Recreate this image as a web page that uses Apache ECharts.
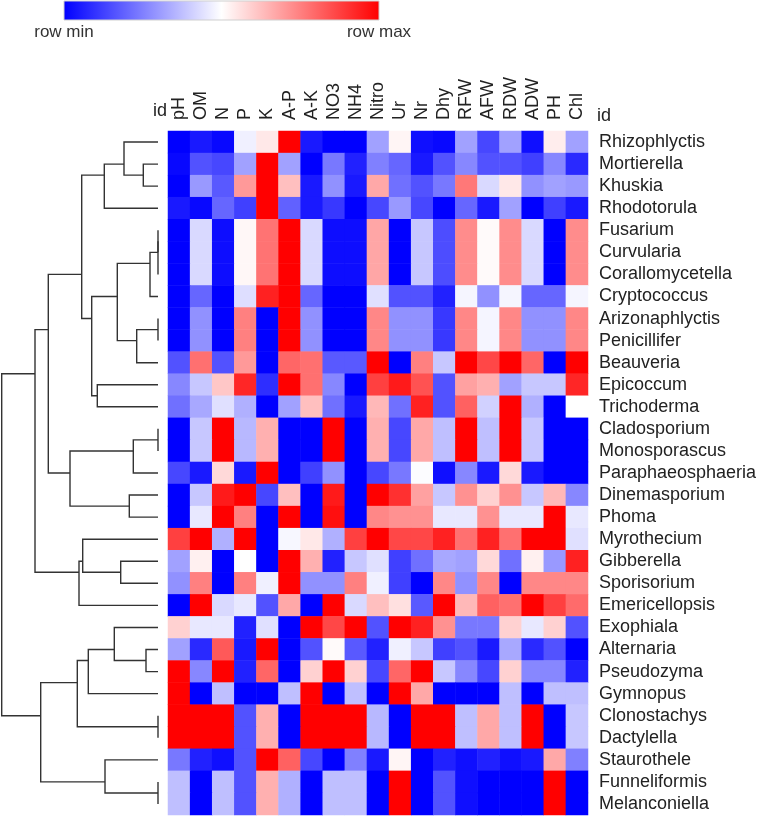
<!DOCTYPE html>
<html>
<head>
<meta charset="utf-8">
<script src="https://cdn.jsdelivr.net/npm/echarts@6/dist/echarts.min.js"></script>
<style>
  html, body { margin: 0; padding: 0; background: #fff; }
  #chart { width: 765px; height: 817px; }
</style>
</head>
<body>
<div id="chart"></div>
<script>
const colNames = ["pH", "OM", "N", "P", "K", "A-P", "A-K", "NO3", "NH4", "Nitro",
  "Ur", "Nr", "Dhy", "RFW", "AFW", "RDW", "ADW", "PH", "Chl"];

const rowNames = [
  "Rhizophlyctis", "Mortierella", "Khuskia", "Rhodotorula", "Fusarium",
  "Curvularia", "Corallomycetella", "Cryptococcus", "Arizonaphlyctis", "Penicillifer",
  "Beauveria", "Epicoccum", "Trichoderma", "Cladosporium", "Monosporascus",
  "Paraphaeosphaeria", "Dinemasporium", "Phoma", "Myrothecium", "Gibberella",
  "Sporisorium", "Emericellopsis", "Exophiala", "Alternaria", "Pseudozyma",
  "Gymnopus", "Clonostachys", "Dactylella", "Staurothele", "Funneliformis",
  "Melanconiella",
];

// row-scaled values, -1 = row min, 1 = row max
const values = [
  [-1, -0.9, -0.97, -0.06, 0.09, 1, -0.9, -1, -1, -0.37, 0.04, -0.94, -0.97, -0.37, -0.72, -0.37, -0.94, 0.07, -0.37],
  [-0.97, -0.68, -0.72, -0.37, 1, -0.37, -1, -0.53, -0.87, -0.5, -0.6, -0.9, -0.68, -0.47, -0.68, -0.68, -0.75, -0.47, -0.84],
  [-1, -0.4, -0.65, 0.4, 1, 0.25, -0.9, -0.43, -0.9, 0.34, -0.56, -0.68, -0.53, 0.53, -0.15, 0.09, -0.43, -0.37, -0.4],
  [-0.9, -0.97, -0.6, -0.75, 1, -0.62, -0.9, -0.78, -1, -0.72, -0.4, -0.72, -1, -0.6, -0.9, -0.37, -1, -0.75, -0.9],
  [-1, -0.15, -0.95, 0.03, 0.55, 1, -0.15, -0.95, -0.95, 0.35, -1, -0.22, -0.7, 0.45, 0.02, 0.45, -0.15, -1, 0.45],
  [-1, -0.15, -0.95, 0.03, 0.55, 1, -0.15, -0.95, -0.95, 0.35, -1, -0.22, -0.7, 0.45, 0.02, 0.45, -0.15, -1, 0.45],
  [-1, -0.15, -0.95, 0.03, 0.55, 1, -0.15, -0.95, -0.95, 0.35, -1, -0.22, -0.7, 0.45, 0.02, 0.45, -0.15, -1, 0.45],
  [-1, -0.6, -1, -0.13, 0.87, 1, -0.6, -1, -1, -0.12, -0.68, -0.68, -0.87, -0.04, -0.43, -0.04, -0.6, -0.6, -0.04],
  [-1, -0.43, -1, 0.5, -1, 1, -0.43, -1, -1, 0.47, -0.43, -0.43, -0.78, 0.47, -0.04, 0.47, -0.43, -0.43, 0.47],
  [-1, -0.43, -1, 0.5, -1, 1, -0.43, -1, -1, 0.47, -0.43, -0.43, -0.78, 0.47, -0.04, 0.47, -0.43, -0.43, 0.47],
  [-0.68, 0.56, -0.68, 0.4, -1, 0.6, 0.56, -0.65, -0.65, 1, -1, 0.5, -0.22, 1, 0.72, 1, 0.6, -1, 1],
  [-0.47, -0.22, 0.22, 0.85, -0.82, 1, 0.56, -0.47, -1, 0.75, 0.9, 0.68, -0.68, 0.37, 0.31, -0.37, -0.22, -0.22, 0.85],
  [-0.56, -0.34, -0.12, -0.31, -1, -0.37, 0.25, -0.56, -0.9, 0.28, -0.56, 0.87, -0.68, 0.62, -0.18, 1, -0.31, -1, 0],
  [-1, -0.22, 1, -0.28, 0.31, -1, -1, 1, -1, 0.31, -0.72, 0.34, -0.25, 1, -0.25, 1, -0.22, -1, -1],
  [-1, -0.22, 1, -0.28, 0.31, -1, -1, 1, -1, 0.31, -0.72, 0.34, -0.25, 1, -0.25, 1, -0.22, -1, -1],
  [-0.72, -0.9, 0.15, -0.9, 1, -1, -0.75, -0.43, -1, -0.72, -0.53, -0.01, -0.94, -0.47, -0.9, 0.15, -0.9, -1, -1],
  [-1, -0.22, 0.9, 1, -0.72, 0.25, -1, 0.9, -1, 1, 0.81, 0.37, -0.22, 0.43, 0.18, 0.43, -0.22, 0.28, -0.47],
  [-1, -0.09, 1, 0.5, -1, 1, -1, 0.94, -1, 0.47, 0.43, 0.43, -0.09, -0.09, 0.43, -0.09, -0.09, 1, -0.09],
  [0.75, 1, -0.31, 1, -1, -0.03, 0.09, -0.31, 0.75, 1, 0.72, 0.72, 0.87, 0.56, 0.87, 0.56, 1, 1, -0.12],
  [-0.37, 0.06, -1, 0, -1, 1, 0.31, -0.87, -0.22, -0.12, -0.75, -0.56, -0.34, -0.37, 0.15, -0.56, 0.06, -0.4, 0.87],
  [-0.43, 0.5, -1, 0.5, -0.06, 1, -0.43, -0.43, 0.5, -0.06, -0.75, -1, 0.47, -0.43, 0.47, -1, 0.47, 0.47, 0.47],
  [-1, 1, -0.15, -0.09, -0.68, 0.34, -1, 1, -0.15, 0.25, 0.12, -0.65, 1, 0.28, 0.62, 0.56, 1, 0.75, 0.58],
  [0.18, -0.09, -0.09, -0.87, -0.12, -1, 1, 0.72, 1, -0.68, 1, 0.87, 0.43, -0.53, -0.53, 0.18, -0.09, 0.18, -0.68],
  [-0.37, -0.84, 0.65, -0.9, 1, -1, -0.68, 0.02, -0.65, -0.87, -0.06, -0.22, -0.75, -0.68, -0.9, -0.34, -0.84, -0.68, -1],
  [1, -0.47, 1, -0.87, 0.6, -1, 0.18, 1, 0.18, -0.72, 0.6, 1, -0.22, -0.47, -0.72, 0.18, -0.47, -0.47, -0.87],
  [1, -1, -0.25, -1, -1, -0.25, 1, -1, -0.25, -1, 1, 0.34, -1, -1, -1, -0.25, -1, -0.25, -0.25],
  [1, 1, 1, -0.68, 0.31, -1, 1, 1, 1, -0.28, -1, 1, 1, -0.25, 0.34, -0.25, 1, -1, -0.22],
  [1, 1, 1, -0.68, 0.31, -1, 1, 1, 1, -0.28, -1, 1, 1, -0.25, 0.34, -0.25, 1, -1, -0.22],
  [-0.53, -0.87, -0.94, -0.68, 1, 0.62, -0.72, -1, -0.5, -0.9, 0.04, -1, -0.87, -0.94, -0.87, -0.94, -0.9, 0.34, -0.5],
  [-0.25, -1, -0.25, -0.68, 0.31, -0.31, -1, -0.25, -0.25, -1, 1, -1, -0.68, -0.94, -1, -1, -1, 1, -1],
  [-0.25, -1, -0.25, -0.68, 0.31, -0.31, -1, -0.25, -0.25, -1, 1, -1, -0.68, -0.94, -1, -1, -1, 1, -1],
];

// row clustering: merge i joins node mergeA[i] and mergeB[i] into node 31 + i
const mergeA = [1, 0, 32, 4, 34, 35, 8, 37, 36, 11, 39, 33, 13, 43, 16, 44, 42, 19, 18, 49, 47, 23, 22, 53, 26, 54, 29, 28, 56, 51];
const mergeB = [2, 31, 3, 5, 6, 7, 9, 10, 38, 12, 40, 41, 14, 15, 17, 45, 46, 20, 48, 21, 50, 24, 52, 25, 27, 55, 30, 57, 58, 59];
const mergeHeight = [14.7, 34, 53.7, 0, 0, 8, 0, 21.3, 40.7, 60.7, 66.3, 76.3, 0, 24.7, 28.7, 88, 109.7,
  37.3, 75.3, 79, 123, 12, 43.7, 69.7, 0, 80.7, 0, 53, 117.3, 156.3];

const textColor = "#222";
const font = "Liberation Sans, Arial, sans-serif";

// node position = mean of its leaf rows
const nodeY = rowNames.map((_, i) => i);
const nodeH = rowNames.map(() => 0);
const nodeSize = rowNames.map(() => 1);
const links = [];
mergeA.forEach((a, i) => {
  const b = mergeB[i];
  const h = mergeHeight[i];
  links.push([nodeH[a], nodeY[a], h, nodeY[b], nodeH[b]]);
  const size = nodeSize[a] + nodeSize[b];
  nodeY.push((nodeY[a] * nodeSize[a] + nodeY[b] * nodeSize[b]) / size);
  nodeH.push(h);
  nodeSize.push(size);
});

const cells = [];
values.forEach((row, r) => row.forEach((v, c) => cells.push([c, r, v])));

const chart = echarts.init(document.getElementById("chart"));

chart.setOption({
  animation: false,
  backgroundColor: "#fff",
  textStyle: { fontFamily: font },
  grid: [
    { left: 168, top: 131, width: 420, height: 684 },
    { left: 0, top: 131, width: 158, height: 684 },
  ],
  xAxis: [
    {
      type: "category",
      gridIndex: 0,
      data: colNames,
      position: "top",
      axisLine: { show: false },
      axisTick: { show: false },
      splitLine: { show: false },
      axisLabel: { interval: 0, rotate: -90, margin: 11, fontSize: 18, color: textColor, fontFamily: font },
    },
    { type: "value", gridIndex: 1, min: 0, max: 158, inverse: true, show: false },
  ],
  yAxis: [
    {
      type: "category",
      gridIndex: 0,
      data: rowNames,
      inverse: true,
      position: "right",
      axisLine: { show: false },
      axisTick: { show: false },
      splitLine: { show: false },
      axisLabel: { interval: 0, margin: 11, fontSize: 18, color: textColor, fontFamily: font },
    },
    { type: "value", gridIndex: 1, min: -0.5, max: 30.5, inverse: true, show: false },
  ],
  visualMap: {
    show: false,
    type: "continuous",
    min: -1,
    max: 1,
    dimension: 2,
    seriesIndex: 0,
    inRange: { color: ["#0000ff", "#ffffff", "#ff0000"] },
  },
  graphic: [
    {
      type: "rect",
      shape: { x: 64, y: 1, width: 315, height: 19 },
      style: {
        stroke: "#cfcfcf",
        lineWidth: 1,
        fill: new echarts.graphic.LinearGradient(0, 0, 1, 0, [
          { offset: 0, color: "#0000ff" },
          { offset: 0.5, color: "#ffffff" },
          { offset: 1, color: "#ff0000" },
        ]),
      },
    },
    { type: "text", x: 64, y: 32, style: { text: "row min", fill: "#333", font: "17px " + font, align: "center", verticalAlign: "middle" } },
    { type: "text", x: 379, y: 32, style: { text: "row max", fill: "#333", font: "17px " + font, align: "center", verticalAlign: "middle" } },
    { type: "text", x: 153, y: 111, style: { text: "id", fill: textColor, font: "18px " + font, align: "left", verticalAlign: "middle" } },
    { type: "text", x: 597, y: 116, style: { text: "id", fill: textColor, font: "18px " + font, align: "left", verticalAlign: "middle" } },
  ],
  series: [
    {
      type: "heatmap",
      xAxisIndex: 0,
      yAxisIndex: 0,
      data: cells,
      itemStyle: { borderWidth: 0 },
      emphasis: { disabled: true },
    },
    {
      type: "custom",
      xAxisIndex: 1,
      yAxisIndex: 1,
      data: links,
      encode: { x: [0, 2, 4], y: [1, 3] },
      clip: false,
      silent: true,
      renderItem: (params, api) => {
        const p1 = api.coord([api.value(0), api.value(1)]);
        const p2 = api.coord([api.value(2), api.value(1)]);
        const p3 = api.coord([api.value(2), api.value(3)]);
        const p4 = api.coord([api.value(4), api.value(3)]);
        return {
          type: "polyline",
          shape: { points: [p1, p2, p3, p4] },
          style: { stroke: "#333", lineWidth: 1.4, fill: null },
        };
      },
    },
  ],
});
</script>
</body>
</html>
